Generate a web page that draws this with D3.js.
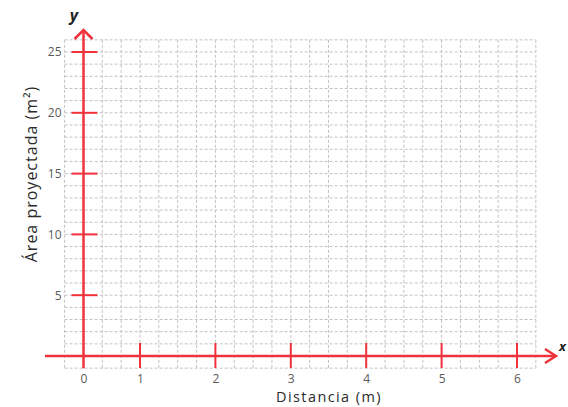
<!DOCTYPE html>
<html>
<head>
<meta charset="utf-8">
<script src="https://cdn.jsdelivr.net/npm/d3@7"></script>
<style>
  html, body { margin: 0; padding: 0; background: #fff; }
  svg { display: block; }
</style>
</head>
<body>
<svg id="chart" width="568" height="407"></svg>
<script>
// Axis values and labels
const xTickValues = [0, 1, 2, 3, 4, 5, 6];
const yTickValues = [5, 10, 15, 20, 25];
const xTitle = "Distancia (m)";
const yTitle = "Área proyectada (m²)";
const xName = "x";
const yName = "y";

const RED = "#f0323c";
const FONT = "'Open Sans', 'Noto Sans', sans-serif";

const svg = d3.select("#chart");

// The first unit of the horizontal axis is drawn shorter than the others
const x = d3.scaleLinear().domain([0, 1, 6]).range([83.5, 140, 517]);
const y = d3.scaleLinear().domain([0, 25]).range([356, 52]);

// Graph paper: quarter-unit columns, one-unit rows
const colStep = (x(6) - x(1)) / 20;
const gridLeft = x(1) - 4 * colStep;
const gridRight = x(6) + colStep;
const gridTop = y(26);
const gridBottom = y(-1);
const cols = d3.range(0, Math.round((gridRight - gridLeft) / colStep) + 1).map(i => gridLeft + i * colStep);
const rows = d3.range(-1, 27);

const grid = svg.append("g")
  .attr("stroke", "#c2c2c2")
  .attr("stroke-width", 1)
  .attr("stroke-dasharray", "3,2");

grid.selectAll("line.v").data(cols).join("line")
  .attr("class", "v")
  .attr("x1", d => d).attr("x2", d => d)
  .attr("y1", gridTop).attr("y2", gridBottom);

grid.selectAll("line.h").data(rows).join("line")
  .attr("class", "h")
  .attr("x1", gridLeft).attr("x2", gridRight)
  .attr("y1", d => y(d)).attr("y2", d => y(d));

// Tick labels via d3 axes
const xAxis = svg.append("g")
  .attr("transform", `translate(0,${y(0)})`)
  .call(d3.axisBottom(x).tickValues(xTickValues).tickSize(0).tickPadding(18).tickFormat(d3.format("d")));
const yAxis = svg.append("g")
  .attr("transform", `translate(${x(0)},0)`)
  .call(d3.axisLeft(y).tickValues(yTickValues).tickSize(0).tickPadding(22).tickFormat(d3.format("d")));

[xAxis, yAxis].forEach(g => {
  g.select(".domain").remove();
  g.selectAll("text")
    .attr("fill", "#5a5a5a")
    .style("font-family", FONT)
    .style("font-size", "12px");
});

// Red axes with open arrowheads
const axes = svg.append("g")
  .attr("stroke", RED)
  .attr("fill", "none")
  .attr("stroke-linecap", "butt");

axes.append("line")
  .attr("x1", 45).attr("x2", 556)
  .attr("y1", y(0)).attr("y2", y(0))
  .attr("stroke-width", 2.5);
axes.append("path")
  .attr("d", `M${545},${y(0) - 7}L${556},${y(0)}L${545},${y(0) + 7}`)
  .attr("stroke-width", 2.5)
  .attr("stroke-linejoin", "miter");

axes.append("line")
  .attr("x1", x(0)).attr("x2", x(0))
  .attr("y1", y(-1)).attr("y2", 30)
  .attr("stroke-width", 2.5);
axes.append("path")
  .attr("d", `M${x(0) - 9},${39}L${x(0)},${30}L${x(0) + 9},${39}`)
  .attr("stroke-width", 2.5)
  .attr("stroke-linejoin", "miter");

// Red tick marks
axes.selectAll("line.xt").data(xTickValues.filter(d => d !== 0)).join("line")
  .attr("class", "xt")
  .attr("x1", d => x(d)).attr("x2", d => x(d))
  .attr("y1", y(0) - 13).attr("y2", y(0) + 12)
  .attr("stroke-width", 2);

axes.selectAll("line.yt").data(yTickValues).join("line")
  .attr("class", "yt")
  .attr("x1", x(0) - 12).attr("x2", x(0) + 14)
  .attr("y1", d => y(d)).attr("y2", d => y(d))
  .attr("stroke-width", 2);

// Axis titles
svg.append("text")
  .attr("x", 329).attr("y", 402)
  .attr("text-anchor", "middle")
  .attr("fill", "#2b2b2b")
  .style("font-family", FONT)
  .style("font-size", "14.5px")
  .style("letter-spacing", "1.4px")
  .text(xTitle);

svg.append("text")
  .attr("transform", `translate(37,${174}) rotate(-90)`)
  .attr("text-anchor", "middle")
  .attr("fill", "#2b2b2b")
  .style("font-family", FONT)
  .style("font-size", "16px")
  .style("letter-spacing", "1px")
  .text(yTitle);

// Axis names
svg.append("text")
  .attr("x", 74).attr("y", 21)
  .attr("text-anchor", "middle")
  .attr("fill", "#222")
  .style("font-family", FONT)
  .style("font-size", "16px")
  .style("font-weight", "bold")
  .style("font-style", "italic")
  .text(yName);

svg.append("text")
  .attr("x", 559).attr("y", 351)
  .attr("fill", "#222")
  .style("font-family", FONT)
  .style("font-size", "13px")
  .style("font-weight", "bold")
  .style("font-style", "italic")
  .text(xName);
</script>
</body>
</html>
